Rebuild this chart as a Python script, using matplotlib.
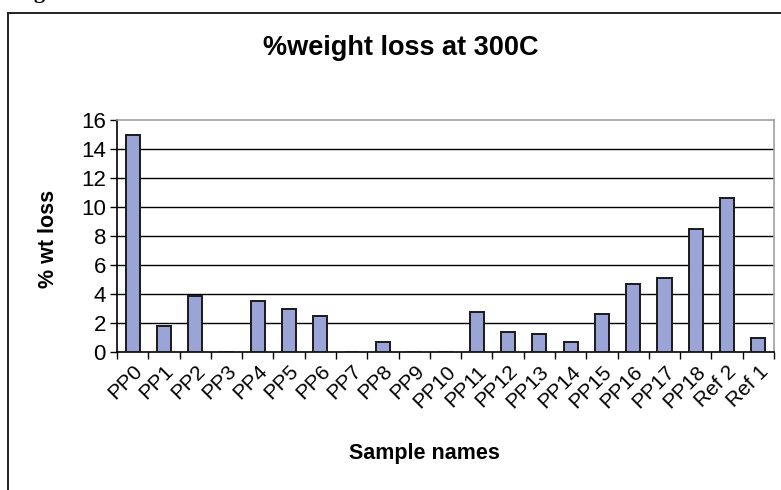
import matplotlib.pyplot as plt
import numpy as np

# --- DATA ---
samples = ['PP0', 'PP1', 'PP2', 'PP3', 'PP4', 'PP5', 'PP6', 'PP7', 'PP8', 'PP9', 'PP10',
           'PP11', 'PP12', 'PP13', 'PP14', 'PP15', 'PP16', 'PP17', 'PP18', 'Ref 2', 'Ref 1']
wt_loss = [15.0, 1.8, 3.85, 0, 3.55, 3.0, 2.45, 0, 0.7, 0, 0,
           2.75, 1.4, 1.25, 0.7, 2.6, 4.7, 5.1, 8.5, 10.6, 0.95]
y_ticks = [0, 2, 4, 6, 8, 10, 12, 14, 16]

plt.rcParams['font.family'] = ['Liberation Sans', 'DejaVu Sans']

fig = plt.figure(figsize=(7.81, 4.90), dpi=100)
ax = fig.add_axes([0.1498, 0.2816, 0.9910 - 0.1498, 0.7551 - 0.2816])

x = np.arange(len(samples))
ax.bar(x, wt_loss, width=0.45, color='#9aa4d6', edgecolor='#1a1a1a', linewidth=1.4, zorder=3)

ax.set_xlim(-0.5, len(samples) - 0.5)
ax.set_ylim(0, 16)
ax.set_yticks(y_ticks)
ax.set_yticklabels([str(t) for t in y_ticks], fontsize=16)
for t in y_ticks[1:-1]:
    ax.axhline(t, color='black', lw=1.0, zorder=1)

ax.set_xticks(x)
ax.set_xticklabels(samples, fontsize=15, rotation=45, ha='right', va='top',
                   rotation_mode='anchor')
ax.set_xticks(np.arange(-0.5, len(samples)), minor=True)
ax.tick_params(axis='x', which='major', length=0, pad=7)
ax.tick_params(axis='x', which='minor', length=5, width=1.0, direction='out')
ax.tick_params(axis='y', length=5, width=1.0, direction='out', pad=3)

ax.spines['left'].set_color('black')
ax.spines['bottom'].set_color('black')
ax.spines['top'].set_color('#a0a0a0')
ax.spines['right'].set_color('#a0a0a0')
for s in ax.spines.values():
    s.set_linewidth(1.2)

fig.text(0.513, 0.902, '%weight loss at 300C', fontsize=19.5, fontweight='bold',
         ha='center', va='center')
fig.text(0.0615, 0.512, '% wt loss', fontsize=15.5, fontweight='bold',
         rotation=90, ha='center', va='center')
fig.text(0.5435, 0.0755, 'Sample names', fontsize=15.5, fontweight='bold',
         ha='center', va='center')

# outer chart frame, cut off at right and bottom edges
fig.add_artist(plt.Line2D([0.0102, 0.0102], [0, 0.9735], color='#222222', lw=1.4,
                          transform=fig.transFigure))
fig.add_artist(plt.Line2D([0.0102, 1.0], [0.9735, 0.9735], color='#222222', lw=1.4,
                          transform=fig.transFigure))

# cropped caption above the frame
fig.text(0.058, 1.0 + 2 / 490, 'Fig', fontsize=16, fontweight='bold', family='Liberation Serif',
         ha='right', va='baseline')

fig.savefig('out.png', dpi=100)
